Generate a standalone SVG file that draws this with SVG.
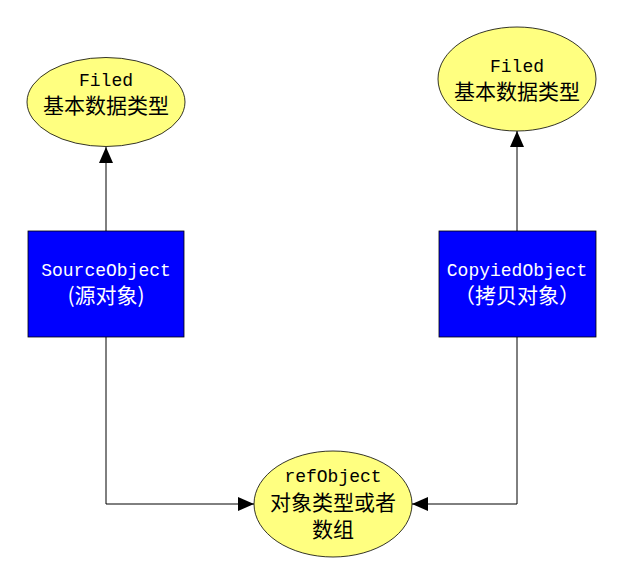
<svg xmlns="http://www.w3.org/2000/svg" width="622" height="580" viewBox="0 0 622 580">
<style>
.ell{fill:#FFFF80;stroke:#000;stroke-width:0.8}
.box{fill:#0000FF;stroke:#000;stroke-width:0.8}
.lat{font-family:"Liberation Mono","Noto Sans CJK SC",monospace;font-size:18px;text-anchor:middle}
.cjk{font-family:"Noto Sans CJK SC","Liberation Mono",sans-serif;font-size:21px;text-anchor:middle}
.dark{fill:#000}
.light{fill:#fff}
.edge{fill:none;stroke:#000;stroke-width:1}
</style>
<defs>
<marker id="arr" markerUnits="userSpaceOnUse" markerWidth="16" markerHeight="14" viewBox="0 0 16 14" refX="16" refY="7" orient="auto">
<path d="M0,0 L16,7 L0,14 Z" fill="#000"/>
</marker>
</defs>
<rect width="622" height="580" fill="#fff"/>
<g id="connectors">
<path class="edge" d="M106,231 V147" marker-end="url(#arr)"/>
<path class="edge" d="M517,231 V131" marker-end="url(#arr)"/>
<path class="edge" d="M106,337 V504 H254" marker-end="url(#arr)"/>
<path class="edge" d="M517,337 V504 H412" marker-end="url(#arr)"/>
</g>
<g id="filed-left">
<ellipse class="ell" cx="106" cy="102" rx="79" ry="44.5"/>
<text class="lat dark" x="106" y="86">Filed</text>
<text class="cjk dark" x="106" y="113">基本数据类型</text>
</g>
<g id="filed-right">
<ellipse class="ell" cx="517" cy="79" rx="79" ry="52"/>
<text class="lat dark" x="517" y="72">Filed</text>
<text class="cjk dark" x="517" y="99">基本数据类型</text>
</g>
<g id="source">
<rect class="box" x="28" y="231" width="156" height="106"/>
<text class="lat light" x="106" y="276">SourceObject</text>
<text class="cjk light" x="106" y="303">(源对象)</text>
</g>
<g id="copied">
<rect class="box" x="439" y="231" width="157" height="106"/>
<text class="lat light" x="517" y="276">CopyiedObject</text>
<text class="cjk light" x="517" y="303">（拷贝对象）</text>
</g>
<g id="ref">
<ellipse class="ell" cx="333" cy="504" rx="79" ry="53"/>
<text class="lat dark" x="333" y="482">refObject</text>
<text class="cjk dark" x="333" y="510">对象类型或者</text>
<text class="cjk dark" x="333" y="537">数组</text>
</g>
</svg>
